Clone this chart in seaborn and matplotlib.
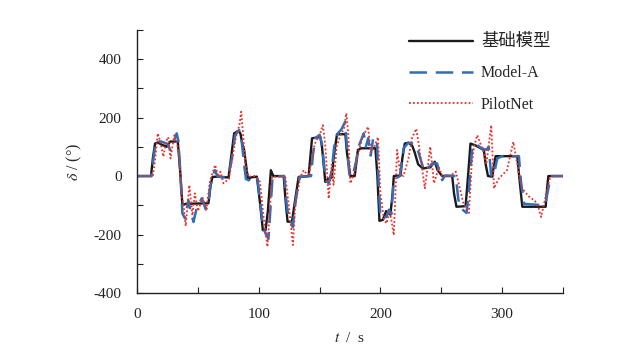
import numpy as np
import pandas as pd
import matplotlib
matplotlib.use("Agg")
import matplotlib.pyplot as plt
from matplotlib.ticker import MultipleLocator
import seaborn as sns

# ==========================================
# DATA (waypoints)
# ==========================================
base_t = [0, 11.5, 13, 14.8, 17, 20, 24.4, 27.2, 33.5, 35.4, 37.3, 40, 58.7, 60.5, 62, 66, 75.2,
          79.8, 83.4, 85, 86.5, 88, 90.8, 91.8, 93, 98.5, 101, 103.4, 105.6, 107.5, 110, 112,
          120.5, 122, 123.7, 127.3, 130, 132.8, 141, 143.8, 150.6, 152, 154.7, 157, 160, 161.5,
          164.3, 171.2, 172.5, 175.3, 178.9, 181.5, 184, 195.9, 197.5, 199.2, 202, 204.7, 208.2,
          210, 211, 216.5, 218, 220, 223, 226, 228, 231, 235, 241, 244.7, 247, 250.7, 259, 260.5,
          262.5, 270, 272, 274, 278, 285, 286.5, 288.4, 292, 293, 294.7, 312.5, 314, 316.6,
          335.8, 337, 338, 350]
base_v = [0, 0, 60, 111, 115, 108, 100, 118, 118, 20, -100, -95, -93, -30, -3, -2, -5,
          146, 155, 145, 110, 89, 0, -14, -5, -2, -90, -185, -185, -120, 20, 0,
          0, -80, -156, -156, -80, -3, 0, 129, 134, 100, -20, -10, -5, 60,
          143, 143, 80, 0, 0, 89, 95, 95, 0, -153, -150, -120, -132,
          -60, 0, 2, 60, 111, 114, 105, 83, 40, 26, 30, 49, 20, 0, 0, -60,
          -105, -103, 0, 111, 105, 89, 40, 0, -2, 30, 68, 68, 0, -105,
          -105, -40, 0, 0]

modela_t = [0, 12, 13.5, 15.5, 20, 25, 27.5, 29, 32.6, 34, 35.5, 37.3, 39.5, 42.2, 44, 46.4, 49,
            53.2, 56.5, 58.5, 60, 62.8, 64, 66, 70, 75, 78, 80.6, 84, 86, 88, 89.5, 91.5, 95.8,
            99, 101, 103.5, 106, 108, 109.5, 111.4, 121, 123, 125, 126.5, 128, 130.5, 133.6,
            143, 144.5, 146.4, 150, 152, 155, 157.5, 160, 162, 165, 168, 171, 172.5, 174.5, 177,
            180, 182, 186.3, 188, 190, 192, 194, 197, 198.5, 200, 205, 207, 209, 210.5, 212,
            216, 219, 223, 228, 231, 235.7, 238.5, 242.5, 246.6, 248.5, 250.8, 253, 262, 264,
            266, 270.8, 272.5, 275.5, 278, 283, 287, 289, 291, 293, 296, 300, 313.8, 315.5,
            318, 334.4, 336, 340, 350]
modela_v = [0, 0, 60, 120, 118, 110, 88, 105, 146, 120, 20, -128, -145, -82, -120, -157, -110,
            -76, -114, -100, -40, 5, 20, 0, -5, 0, 60, 140, 157, 120, 40, -10, -14, 0,
            -10, -80, -175, -200, -215, -120, -3, 0, -100, -150, -155, -175, -80, -3,
            0, 70, 129, 141, 110, -14, -25, 20, 100, 146, 160, 185, 100, 5, -3,
            50, 100, 146, 100, 130, 70, 128, 128, -20, -143, -140, -115, -130, -40, -10,
            0, 95, 114, 110, 85, 20, 25, 43, 43, 10, -14, 2, 0, -80,
            -110, -126, -60, 100, 111, 95, 90, 100, 2, 0, 60, 68, 68, -20,
            -95, -100, -85, 0, 0]

pilot_t = [0, 13, 15, 17, 19, 21.7, 24, 25.6, 27.5, 30.7, 32.5, 34.5, 36.5, 38.5, 40, 43, 45.5,
           47.5, 50, 54, 57, 60, 64.2, 67, 68.5, 71, 75.5, 79, 82, 84, 85.6, 87, 89, 91.6, 97,
           101, 104, 107.2, 109, 110.9, 121.8, 125, 128.1, 130, 134.2, 137, 141, 146, 150,
           152.8, 154.8, 157.5, 160, 161.5, 164, 167, 170, 172, 173.5, 175.3, 178.5, 181.5,
           185, 189.9, 192, 195, 198, 200, 203, 205, 207.5, 209, 211, 213.7, 216.5, 219, 223,
           226, 229.4, 231.5, 236.5, 241, 244, 248, 250.7, 257, 262, 264, 268, 272.7, 275, 277,
           279.5, 285, 287, 291.1, 293.3, 297, 304, 309.2, 312.5, 316, 322, 327, 330, 332,
           335.8, 339, 342, 350]
pilot_v = [0, 0, 60, 146, 120, 66, 120, 133, 60, 140, 115, 80, -60, -110, -171, -31, -135,
           -59, -120, -75, -114, -15, 38, -3, 15, -25, -10, 80, 150, 170, 220, 150, 40, -2, 0,
           -20, -140, -242, -120, -3, 0, -110, -236, -100, -3, 20, -2, 110, 140,
           174, 100, -77, 40, -30, 100, 140, 160, 215, 150, -25, 10, 70,
           130, 169, 80, 100, 133, -60, -150, -162, -120, -150, -202, 89, 5, 0, 60,
           130, 162, 110, -42, 100, -25, 30, 0, 0, 15, -20, -90, -126, 40, 100,
           140, 80, 40, 174, -42, -10, 20, 117, 40, -40, -70, -85, -110, -140,
           -70, -10, 0, 0]

labels = ["基础模型", "Model-A", "PilotNet"]

# ==========================================
# PLOT
# ==========================================
sns.set_style("ticks")
plt.rcParams["font.family"] = ["Liberation Serif", "Noto Sans CJK SC"]
plt.rcParams["mathtext.fontset"] = "stix"
plt.rcParams["axes.unicode_minus"] = False

fig, ax = plt.subplots(figsize=(6.2, 3.64), dpi=100)
fig.subplots_adjust(left=0.221, right=0.908, bottom=0.195, top=0.918)

sns.lineplot(x=base_t, y=base_v, ax=ax, estimator=None, sort=False,
             color="#1a1a1a", linewidth=1.7, label=labels[0])
sns.lineplot(x=modela_t, y=modela_v, ax=ax, estimator=None, sort=False,
             color="#2e6fb7", linewidth=1.8, dashes=False, label=labels[1])
ax.lines[-1].set_dashes([7, 3.5])
sns.lineplot(x=pilot_t, y=pilot_v, ax=ax, estimator=None, sort=False,
             color="#e8322a", linewidth=1.3, label=labels[2])
ax.lines[-1].set_dashes([1, 1.2])

ax.set_xlim(0, 350)
ax.set_ylim(-400, 500)
ax.xaxis.set_major_locator(MultipleLocator(100))
ax.xaxis.set_minor_locator(MultipleLocator(50))
ax.yaxis.set_major_locator(MultipleLocator(200))
ax.yaxis.set_minor_locator(MultipleLocator(100))
ax.tick_params(which="both", direction="in", length=4, width=0.8, colors="#222222")
ax.tick_params(which="major", labelsize=11, pad=11)
sns.despine(ax=ax)
for s in ("left", "bottom"):
    ax.spines[s].set_linewidth(1.0)
    ax.spines[s].set_color("#222222")

ax.set_xlabel("$t$  /  s", fontsize=11, labelpad=7)
ax.set_ylabel("$\\delta$ / (°)", fontsize=11.5, labelpad=7)

leg = ax.legend(loc="upper left", bbox_to_anchor=(0.66, 0.906), bbox_transform=fig.transFigure,
                frameon=False, fontsize=11.5, handlelength=4.0, handletextpad=0.5,
                labelspacing=0.95, borderpad=0, borderaxespad=0)
leg.get_texts()[0].set_fontsize(12.5)

fig.savefig("out.png", dpi=100)
